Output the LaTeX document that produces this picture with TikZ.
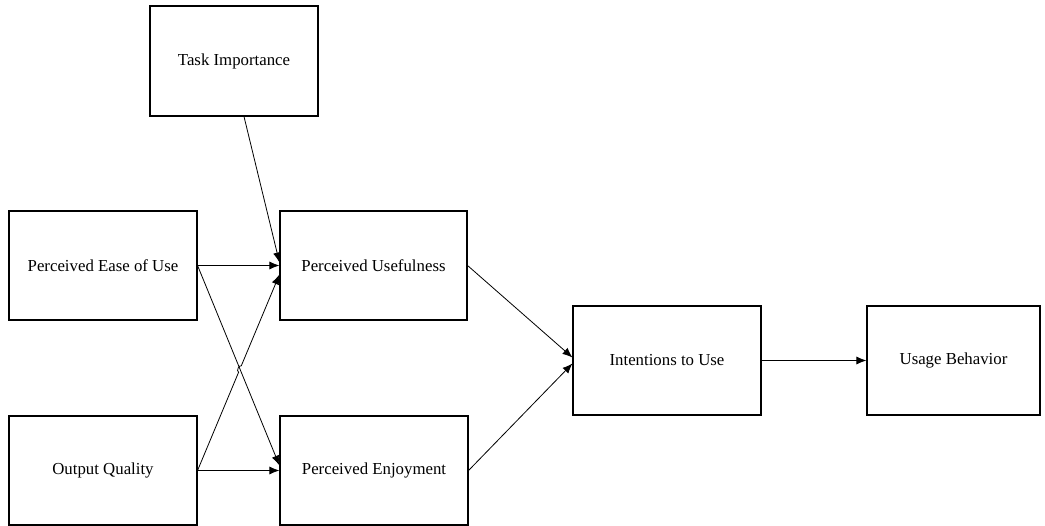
\documentclass[tikz,border=0pt]{standalone}
\usepackage{fontspec}
\setmainfont{Liberation Serif}
\usetikzlibrary{arrows.meta,calc,intersections}
\begin{document}
\begin{tikzpicture}[x=1pt,y=-1pt,
  box/.style={draw,line width=1.1pt,minimum width=188pt,minimum height=109pt,inner sep=0pt,font=\fontsize{16.8}{19}\selectfont},
  conn/.style={line width=0.8pt,-{Latex[length=10pt,width=8pt]}}]
\useasboundingbox (0,0) rectangle (1045,526);
\node[box,minimum width=168pt,minimum height=110pt] (ti) at (234,61) {Task Importance};
\node[box] (peu) at (103,265.5) {Perceived Ease of Use};
\node[box,minimum width=187pt] (pu) at (373.5,265.5) {Perceived Usefulness};
\node[box] (oq) at (103,470.5) {Output Quality};
\node[box] (pe) at (374,470.5) {Perceived Enjoyment};
\node[box] (itu) at (667,360.5) {Intentions to Use};
\node[box,minimum width=173pt] (ub) at (953.5,360.5) {Usage Behavior};
\coordinate (puT) at ($(pu.west)+(0,-3)$);
\coordinate (puB) at ($(pu.west)+(0,9)$);
\coordinate (peT) at ($(pe.west)+(0,-5)$);
\coordinate (tiS) at ($(ti.south)+(10,0)$);
\draw[conn] (tiS) -- (puT);
\draw[conn] (peu.east) -- (pu.west);
\draw[conn,name path=a] (peu.east) -- (peT);
\path[name path=b] (oq.east) -- (puB);
\path[name intersections={of=a and b, by=X}];
\draw[conn] (oq.east) -- ($(X)!3.5pt!(oq.east)$) to[bend left=90] ($(X)!3.5pt!(puB)$) -- (puB);
\draw[conn] (oq.east) -- (pe.west);
\draw[conn] (pu.east) -- ($(itu.west)+(0,-3)$);
\draw[conn] (pe.east) -- ($(itu.west)+(0,3)$);
\draw[conn] (itu.east) -- (ub.west);
\end{tikzpicture}
\end{document}
